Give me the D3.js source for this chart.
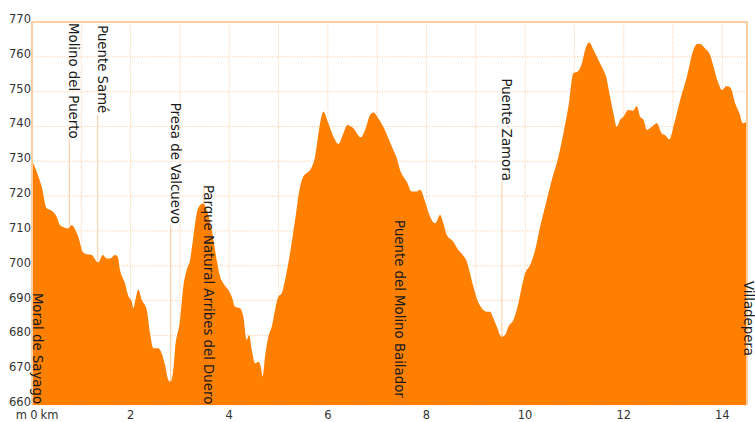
<!DOCTYPE html>
<html>
<head>
<meta charset="utf-8">
<script src="https://cdn.jsdelivr.net/npm/d3@7"></script>
<style>
  html, body { margin: 0; padding: 0; background: #fff; }
  svg { display: block; }
</style>
</head>
<body>
<svg id="chart" width="755" height="422"></svg>
<script>
// ---- data ----
const distanceKm = [0,0.095,0.197,0.298,0.40,0.50,0.568,0.669,0.736,0.805,0.872,0.939,1.028,1.11,1.211,1.312,1.345,1.434,1.515,1.582,1.684,1.738,1.785,1.886,1.953,2.022,2.055,2.11,2.156,2.225,2.327,2.394,2.46,2.562,2.631,2.698,2.765,2.81,2.866,2.90,3.002,3.069,3.138,3.205,3.272,3.341,3.408,3.475,3.544,3.645,3.746,3.813,3.88,3.982,4.051,4.118,4.219,4.286,4.355,4.402,4.457,4.523,4.59,4.639,4.68,4.726,4.793,4.862,4.929,4.996,5.065,5.132,5.233,5.335,5.436,5.503,5.605,5.639,5.74,5.842,5.909,6.01,6.112,6.213,6.314,6.396,6.517,6.667,6.755,6.856,6.923,7.024,7.126,7.227,7.329,7.398,7.465,7.601,7.702,7.803,7.87,7.972,8.073,8.175,8.276,8.343,8.412,8.546,8.647,8.736,8.817,8.884,8.951,9.02,9.122,9.223,9.29,9.357,9.426,9.527,9.594,9.661,9.763,9.864,9.933,10.0,10.101,10.203,10.304,10.406,10.541,10.675,10.776,10.878,10.979,11.06,11.15,11.237,11.304,11.386,11.487,11.588,11.643,11.724,11.791,11.86,11.927,11.994,12.096,12.185,12.266,12.333,12.4,12.469,12.57,12.672,12.773,12.84,12.927,13.008,13.144,13.28,13.414,13.483,13.55,13.651,13.753,13.82,13.921,13.99,14.091,14.172,14.26,14.347,14.416,14.5];
const elevationM = [730.4,727.0,722.7,716.5,715.8,714.1,711.7,710.9,710.7,711.7,710.5,708.3,704.0,703.3,703.1,701.2,700.9,703.1,702.1,702.1,703.1,702.6,698.8,695.0,691.3,689.7,687.8,691.1,693.2,690.2,687.3,680.6,676.3,676.3,674.8,671.5,667.2,666.7,670.1,675.8,684.4,694.0,698.8,701.6,708.3,715.1,717.4,717.9,716.0,710.3,701.6,696.9,695.0,693.0,691.1,688.2,687.8,685.4,678.7,680.1,675.8,672.0,672.4,671.0,668.1,673.9,679.6,682.5,687.3,691.1,692.1,695.9,703.6,713.1,722.7,725.6,727.0,727.5,731.3,740.9,744.2,740.9,737.1,735.0,738.0,740.4,739.5,736.9,739.0,743.3,744.0,742.3,739.9,736.6,733.2,730.9,727.5,724.1,721.3,721.3,721.8,718.4,714.1,712.2,714.6,712.2,708.8,706.9,704.5,703.1,701.2,697.8,694.0,690.6,687.8,686.8,686.8,684.9,682.5,679.6,680.1,682.5,684.4,689.2,694.0,697.8,700.2,704.5,711.2,717.0,724.6,731.3,738.0,745.7,755.3,755.7,758.1,762.9,764.1,762.0,759.1,756.2,754.3,748.5,743.8,739.9,741.9,742.8,744.7,744.5,745.9,742.8,741.9,739.0,739.9,740.9,738.0,737.5,736.3,739.9,747.6,754.3,762.0,763.7,763.7,762.4,760.5,757.2,752.4,750.5,751.6,751.0,746.7,743.8,740.9,741.6];

const waypointNames = ["Moral de Sayago","Molino del Puerto","Puente Samé","Presa de Valcuevo","Parque Natural Arribes del Duero","Puente del Molino Bailador","Puente Zamora","Villadepera"];
const waypointKm = [0.03, 0.757, 1.333, 2.813, 3.489, 7.37, 9.53, 14.445];
// elevation level at which each rotated label begins (top of label)
const waypointLabelTopM = [692.2, 769.7, 769.1, 746.8, 723.2, 713.1, 753.8, 695.6];

const yTicks = [660,670,680,690,700,710,720,730,740,750,760,770];
const xGridKm = [1,2,3,4,5,6,7,8,9,10,11,12,13,14];
const xTickLabels = [2,4,6,8,10,12,14];

// ---- layout ----
const svg = d3.select("#chart");
const x = d3.scaleLinear().domain([0, 14.5]).range([32, 747]);
const y = d3.scaleLinear().domain([660, 770]).range([405, 22]);

const gridColor = "#fdc898";
const frameColor = "#ffcf9f";
const fillColor = "#ff8000";

const profile = distanceKm.map((d, i) => ({ km: d, ele: elevationM[i] }));

// grid
const grid = svg.append("g");
grid.selectAll("line.h").data(yTicks.filter(v => v < 770)).join("line")
  .attr("x1", x(0)).attr("x2", x(14.5))
  .attr("y1", d => y(d)).attr("y2", d => y(d))
  .attr("stroke", gridColor).attr("stroke-width", 1).attr("stroke-dasharray", "1,1.5");
grid.selectAll("line.v").data(xGridKm).join("line")
  .attr("x1", d => x(d)).attr("x2", d => x(d))
  .attr("y1", y(770)).attr("y2", y(660))
  .attr("stroke", gridColor).attr("stroke-width", 1).attr("stroke-dasharray", "1,1.5");

const markerG = svg.append("g");
const areaG = svg.append("g");
const frameG = svg.append("g");
const labelG = svg.append("g");

const labels = labelG.selectAll("text").data(waypointNames).join("text")
  .attr("transform", (d, i) => `translate(${x(waypointKm[i])},${y(waypointLabelTopM[i])}) rotate(90)`)
  .attr("font-family", "DejaVu Sans, sans-serif")
  .attr("font-size", "13.3px")
  .attr("fill", "#1a1a1a")
  .attr("text-anchor", "start")
  .text(d => d);

const interp = km => {
  const b = d3.bisector(d => d.km).left(profile, km);
  if (b <= 0) return profile[0].ele;
  if (b >= profile.length) return profile[profile.length - 1].ele;
  const a = profile[b - 1], c = profile[b];
  return a.ele + (c.ele - a.ele) * (km - a.km) / (c.km - a.km);
};

labels.each(function (d, i) {
  const len = this.getComputedTextLength();
  const top = y(waypointLabelTopM[i]);
  const end = top + len;
  const py = y(interp(waypointKm[i]));
  const start = end < py ? end + 1 : top;
  markerG.append("line")
    .attr("x1", x(waypointKm[i])).attr("x2", x(waypointKm[i]))
    .attr("y1", start).attr("y2", y(660))
    .attr("stroke", "#ffc999").attr("stroke-width", 1);
});

// profile area
const area = d3.area()
  .x(d => x(d.km))
  .y0(y(660))
  .y1(d => y(d.ele))
  .curve(d3.curveMonotoneX);
areaG.append("path").datum(profile)
  .attr("d", area)
  .attr("fill", fillColor);

// frame
frameG.append("path")
  .attr("d", `M${x(0)},${y(660)}V${y(770)}H${x(14.5)}V${y(660)}`)
  .attr("fill", "none").attr("stroke", frameColor).attr("stroke-width", 2);

// y tick labels
const tickFont = "DejaVu Sans, sans-serif";
svg.append("g").selectAll("text").data(yTicks).join("text")
  .attr("x", 31).attr("y", d => y(d) + 1)
  .attr("text-anchor", "end")
  .attr("font-family", tickFont).attr("font-size", "11.5px").attr("fill", "#333")
  .text(d => d);

// x tick labels
svg.append("g").selectAll("text").data(xTickLabels).join("text")
  .attr("x", d => x(d)).attr("y", 419)
  .attr("text-anchor", "middle")
  .attr("font-family", tickFont).attr("font-size", "11.5px").attr("fill", "#333")
  .text(d => d);

svg.append("text").attr("x", 27).attr("y", 419).attr("text-anchor", "end")
  .attr("font-family", tickFont).attr("font-size", "11.5px").attr("fill", "#333").text("m");
svg.append("text").attr("x", x(0) + 2).attr("y", 419).attr("text-anchor", "middle")
  .attr("font-family", tickFont).attr("font-size", "11.5px").attr("fill", "#333").text("0");
svg.append("text").attr("x", x(0) + 8.5).attr("y", 419).attr("text-anchor", "start")
  .attr("font-family", tickFont).attr("font-size", "11.5px").attr("fill", "#333").text("km");
</script>
</body>
</html>
